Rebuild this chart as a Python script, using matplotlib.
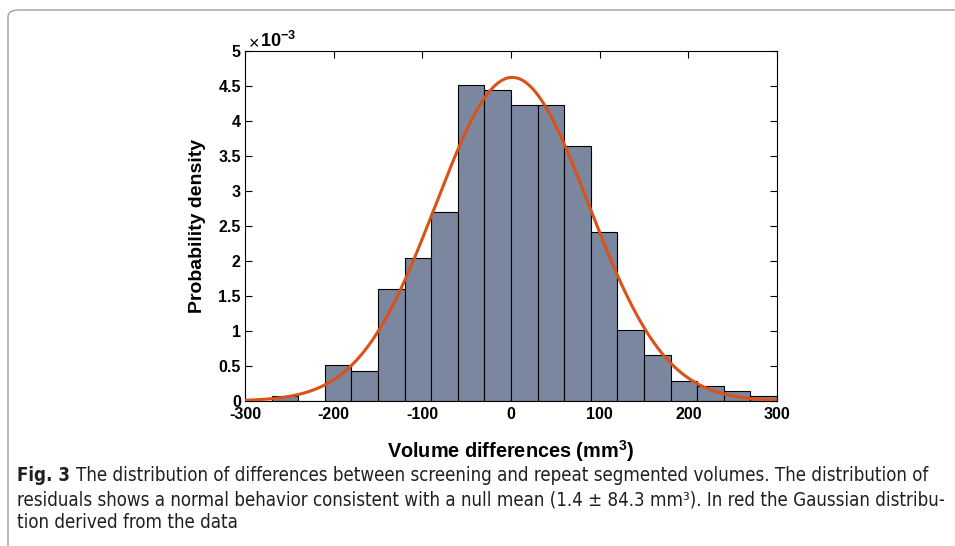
import numpy as np
import matplotlib
matplotlib.use("Agg")
import matplotlib.pyplot as plt
from matplotlib.patches import FancyBboxPatch
from matplotlib.ticker import FuncFormatter, MultipleLocator

# Data
bin_edges = [-270, -240, -210, -180, -150, -120, -90, -60, -30, 0,
             30, 60, 90, 120, 150, 180, 210, 240, 270, 300]
densities_e3 = [0.07, 0.0, 0.51, 0.43, 1.60, 2.04, 2.70, 4.52, 4.45, 4.23,
                4.23, 3.65, 2.41, 1.02, 0.66, 0.29, 0.21, 0.14, 0.07]
gauss_mean = 1.4
gauss_sd = 86.3
x_ticks = [-300, -200, -100, 0, 100, 200, 300]

plt.rcParams['font.family'] = ['Liberation Sans', 'DejaVu Sans']
plt.rcParams['axes.unicode_minus'] = False
plt.rcParams['mathtext.fontset'] = 'custom'
plt.rcParams['mathtext.rm'] = 'Liberation Sans'
plt.rcParams['mathtext.bf'] = 'Liberation Sans:bold'
plt.rcParams['mathtext.it'] = 'Liberation Sans:italic'

fig = plt.figure(figsize=(9.55, 5.46), dpi=100)
W, H = 955, 546
ax = fig.add_axes([245 / W, 1 - 401 / H, (777 - 245) / W, (401 - 51) / H])

edges = np.array(bin_edges, dtype=float)
dens = np.array(densities_e3) * 1e-3
ax.bar(edges[:-1], dens, width=np.diff(edges), align='edge',
       color='#7b879e', edgecolor='black', linewidth=0.8, zorder=2)

xs = np.linspace(-300, 300, 600)
pdf = np.exp(-0.5 * ((xs - gauss_mean) / gauss_sd) ** 2) / (gauss_sd * np.sqrt(2 * np.pi))
ax.plot(xs, pdf, color='#d95319', linewidth=2.2, zorder=3)

ax.set_xlim(-300, 300)
ax.set_ylim(0, 5e-3)
ax.set_xticks(x_ticks)
ax.yaxis.set_major_locator(MultipleLocator(0.5e-3))
ax.yaxis.set_major_formatter(FuncFormatter(lambda v, p: f"{v * 1e3:g}"))
ax.tick_params(direction='in', top=True, right=True, length=5, width=0.8,
               labelsize=11.5, pad=3)
ax.tick_params(axis='x', pad=4)
for lab in ax.get_xticklabels() + ax.get_yticklabels():
    lab.set_fontweight('bold')
for s in ax.spines.values():
    s.set_linewidth(0.8)

ax.set_xlabel(r'Volume differences (mm$^\mathbf{3}$)', fontsize=14.3, fontweight='bold', labelpad=12)
ax.set_ylabel('Probability density', fontsize=14, fontweight='bold', labelpad=9)
ax.text(3 / 532, 4 / 350 + 1, r'$\times$', transform=ax.transAxes, fontsize=13,
        va='baseline', ha='left')
ax.text(15 / 532, 4 / 350 + 1, r'$\mathbf{10^{-3}}$', transform=ax.transAxes, fontsize=13,
        va='baseline', ha='left')

# Frame around figure panel
frame = FancyBboxPatch((8 / W, 0 - 0.05), 1.2, 1 - 10 / H + 0.05,
                       boxstyle='round,pad=0,rounding_size=0.012',
                       transform=fig.transFigure, fill=False,
                       edgecolor='#a0a0a0', linewidth=1.0, clip_on=False)
fig.add_artist(frame)

# Caption
kw = dict(fontsize=13.45, family=['DejaVu Sans'], fontstretch='condensed',
          va='baseline', ha='left', color='#231f20')
fig.text(17 / W, 1 - 481 / H, 'Fig. 3', fontweight='bold', **kw)
fig.text(76 / W, 1 - 481 / H,
         'The distribution of differences between screening and repeat segmented volumes. The distribution of',
         **kw)
fig.text(17 / W, 1 - 505 / H,
         'residuals shows a normal behavior consistent with a null mean (1.4 \u00b1 84.3 mm\u00b3). In red the Gaussian distribu-',
         **kw)
fig.text(17 / W, 1 - 528 / H, 'tion derived from the data', **kw)

fig.savefig('out.png', dpi=100)
